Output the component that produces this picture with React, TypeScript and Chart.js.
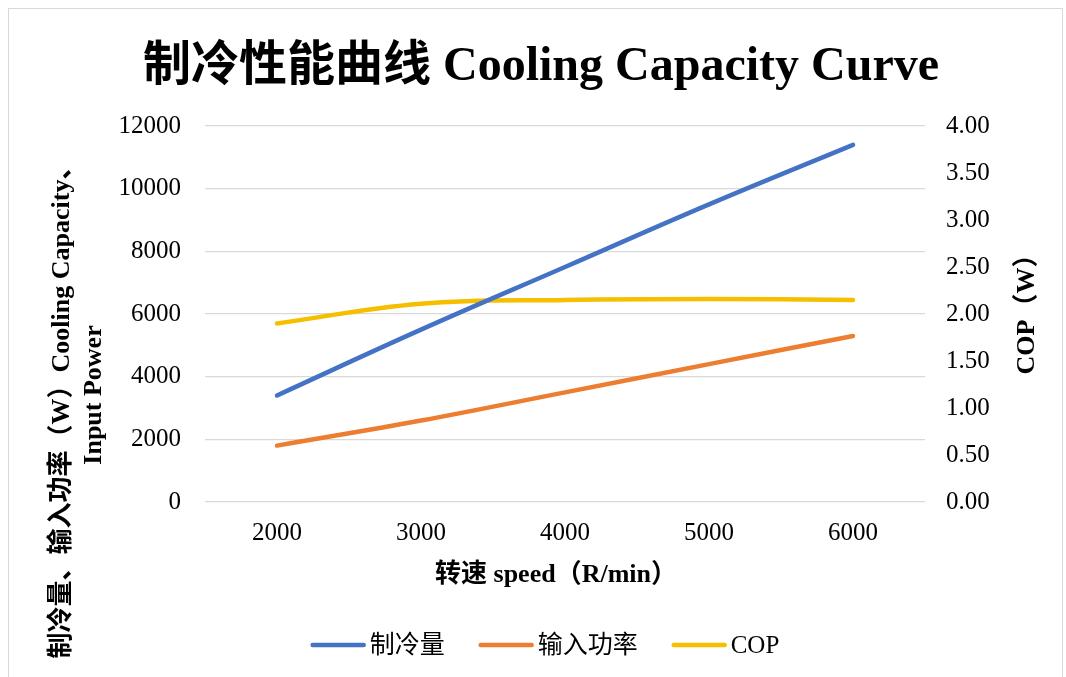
import React, { useEffect, useRef } from "react";
import { Chart, registerables } from "chart.js";

Chart.register(...registerables);

// ---- data ----
const speeds = ["2000", "3000", "4000", "5000", "6000"];
const coolingCapacity = [3400, 5500, 7500, 9500, 11400];
const inputPower = [1800, 2600, 3500, 4400, 5300];
const cop = [1.9, 2.11, 2.15, 2.16, 2.15];

const seriesNames = ["制冷量", "输入功率", "COP"];
const chartTitle = "制冷性能曲线 Cooling Capacity Curve";
const xTitle = "转速 speed（R/min）";
const yLeftTitle1 = "制冷量、输入功率（W）Cooling Capacity、";
const yLeftTitle2 = "Input Power";
const yRightTitle = "COP（W）";

const SERIF = "'Liberation Serif', 'Times New Roman', 'Noto Sans CJK SC', serif";
const COLORS = ["#4472C4", "#ED7D31", "#F5BF00"];

const W = 1066;
const H = 677;

const textPlugin = {
  id: "customTexts",
  afterDraw(chart: any) {
    const ctx = chart.ctx as CanvasRenderingContext2D;
    ctx.save();
    // outer frame
    ctx.strokeStyle = "#d9d9d9";
    ctx.lineWidth = 1;
    ctx.strokeRect(8.5, 8.5, 1054, 700);

    ctx.fillStyle = "#000";
    ctx.textAlign = "center";
    ctx.textBaseline = "middle";

    // main title
    ctx.font = `bold 48px ${SERIF}`;
    ctx.fillText(chartTitle, 541, 68);

    // x-axis title
    ctx.font = `bold 26px ${SERIF}`;
    ctx.fillText(xTitle, 556, 575);

    // left axis title (rotated)
    ctx.save();
    ctx.translate(62, 406);
    ctx.rotate(-Math.PI / 2);
    ctx.fillText(yLeftTitle1, 0, 0);
    ctx.restore();
    ctx.save();
    ctx.translate(94, 395);
    ctx.rotate(-Math.PI / 2);
    ctx.fillText(yLeftTitle2, 0, 0);
    ctx.restore();

    // right axis title
    ctx.save();
    ctx.translate(1027, 308);
    ctx.rotate(-Math.PI / 2);
    ctx.fillText(yRightTitle, 0, 0);
    ctx.restore();

    // legend
    ctx.font = `25px ${SERIF}`;
    const lineLen = 55;
    const gapText = 4;
    const gapItem = 34;
    const items = chart.data.datasets.map((d: any) => ({
      label: d.label as string,
      color: d.borderColor as string,
      w: ctx.measureText(d.label).width,
    }));
    const total =
      items.reduce((s: number, it: any) => s + lineLen + gapText + it.w, 0) +
      gapItem * (items.length - 1);
    let x = 545 - total / 2;
    const ly = 645;
    ctx.textAlign = "left";
    ctx.lineCap = "round";
    for (const it of items) {
      ctx.strokeStyle = it.color;
      ctx.lineWidth = 4.5;
      ctx.beginPath();
      ctx.moveTo(x + 2, ly);
      ctx.lineTo(x + lineLen - 2, ly);
      ctx.stroke();
      x += lineLen + gapText;
      ctx.fillStyle = "#000";
      ctx.fillText(it.label, x, ly + 1);
      x += it.w + gapItem;
    }
    ctx.restore();
  },
};

export default function App() {
  const ref = useRef<HTMLCanvasElement | null>(null);

  useEffect(() => {
    if (!ref.current) return;
    const common = {
      fill: false,
      borderWidth: 4.5,
      pointRadius: 0,
      pointHoverRadius: 0,
      tension: 0.4,
      borderCapStyle: "round" as const,
      borderJoinStyle: "round" as const,
    };
    const tickFont = { family: SERIF, size: 25 };
    const chart = new Chart(ref.current, {
      type: "line",
      data: {
        labels: speeds,
        datasets: [
          { ...common, label: seriesNames[0], data: coolingCapacity, borderColor: COLORS[0], backgroundColor: COLORS[0], yAxisID: "y" },
          { ...common, label: seriesNames[1], data: inputPower, borderColor: COLORS[1], backgroundColor: COLORS[1], yAxisID: "y" },
          { ...common, label: seriesNames[2], data: cop, borderColor: COLORS[2], backgroundColor: COLORS[2], yAxisID: "y1" },
        ],
      },
      options: {
        responsive: false,
        animation: false,
        devicePixelRatio: 1,
        layout: { padding: { top: 126, left: 0, right: 0, bottom: 0 } },
        plugins: {
          legend: { display: false },
          title: { display: false },
          tooltip: { enabled: false },
        },
        scales: {
          x: {
            type: "category",
            offset: true,
            grid: { display: false, drawTicks: false },
            border: { display: false },
            ticks: {
              padding: 16,
              color: "#000",
              font: tickFont,
              maxRotation: 0,
            },
            afterFit: (s: any) => {
              s.height = H - 502;
            },
          },
          y: {
            position: "left",
            min: 0,
            max: 12000,
            ticks: {
              stepSize: 2000,
              padding: 24,
              color: "#000",
              font: tickFont,
              callback: (v: any) => String(v),
            },
            grid: { color: "#d9d9d9", lineWidth: 1.3, drawTicks: false },
            border: { display: false },
            afterFit: (s: any) => {
              s.width = 205;
            },
          },
          y1: {
            position: "right",
            min: 0,
            max: 4,
            ticks: {
              stepSize: 0.5,
              padding: 21,
              color: "#000",
              font: tickFont,
              callback: (v: any) => Number(v).toFixed(2),
            },
            grid: { display: false, drawTicks: false },
            border: { display: false },
            afterFit: (s: any) => {
              s.width = W - 925;
            },
          },
        },
      },
      plugins: [textPlugin],
    });
    return () => chart.destroy();
  }, []);

  return (
    <div style={{ position: "fixed", left: 0, top: 0, width: W, height: H, background: "#fff" }}>
      <canvas ref={ref} width={W} height={H} style={{ width: W, height: H, display: "block" }} />
    </div>
  );
}
